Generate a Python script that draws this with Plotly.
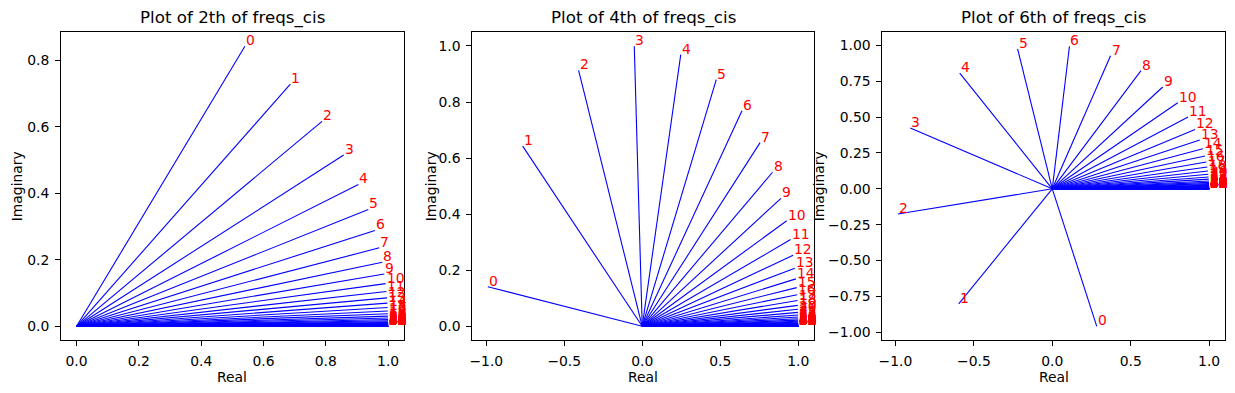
import plotly.graph_objects as go

# ---- data ----
labels = [str(i) for i in range(64)]

real_2th = [0.5403, 0.6862, 0.7878, 0.8574, 0.9046, 0.9364, 0.9576, 0.9718, 0.9813, 0.9876,
            0.9917, 0.9945, 0.9964, 0.9976, 0.9984, 0.9989, 0.9993, 0.9995, 0.9997, 0.9998,
            0.9999, 0.9999, 0.9999, 1.0, 1.0, 1.0, 1.0, 1.0, 1.0, 1.0,
            1.0, 1.0, 1.0, 1.0, 1.0, 1.0, 1.0, 1.0, 1.0, 1.0,
            1.0, 1.0, 1.0, 1.0, 1.0, 1.0, 1.0, 1.0, 1.0, 1.0,
            1.0, 1.0, 1.0, 1.0, 1.0, 1.0, 1.0, 1.0, 1.0, 1.0,
            1.0, 1.0, 1.0, 1.0]
imag_2th = [0.8415, 0.7275, 0.6160, 0.5146, 0.4263, 0.3511, 0.2881, 0.2358, 0.1927, 0.1573,
            0.1283, 0.1046, 0.0853, 0.0695, 0.0566, 0.0461, 0.0376, 0.0306, 0.0250, 0.0203,
            0.0166, 0.0135, 0.0110, 0.0090, 0.0073, 0.0059, 0.0048, 0.0039, 0.0032, 0.0026,
            0.0021, 0.0017, 0.0014, 0.0011, 0.0009, 0.0008, 0.0006, 0.0005, 0.0004, 0.0003,
            0.0003, 0.0002, 0.0002, 0.0001, 0.0001, 0.0001, 0.0001, 0.0001, 0.0001, 0.0,
            0.0, 0.0, 0.0, 0.0, 0.0, 0.0, 0.0, 0.0, 0.0, 0.0,
            0.0, 0.0, 0.0, 0.0]

real_4th = [-0.9900, -0.7663, -0.4078, -0.0509, 0.2471, 0.4747, 0.6397, 0.7557, 0.8355, 0.8898,
            0.9264, 0.9510, 0.9674, 0.9783, 0.9856, 0.9904, 0.9936, 0.9958, 0.9972, 0.9981,
            0.9988, 0.9992, 0.9995, 0.9996, 0.9998, 0.9998, 0.9999, 0.9999, 1.0, 1.0,
            1.0, 1.0, 1.0, 1.0, 1.0, 1.0, 1.0, 1.0, 1.0, 1.0,
            1.0, 1.0, 1.0, 1.0, 1.0, 1.0, 1.0, 1.0, 1.0, 1.0,
            1.0, 1.0, 1.0, 1.0, 1.0, 1.0, 1.0, 1.0, 1.0, 1.0,
            1.0, 1.0, 1.0, 1.0]
imag_4th = [0.1411, 0.6425, 0.9131, 0.9987, 0.9690, 0.8801, 0.7686, 0.6550, 0.5495, 0.4564,
            0.3765, 0.3093, 0.2534, 0.2072, 0.1692, 0.1380, 0.1126, 0.0918, 0.0748, 0.0610,
            0.0497, 0.0405, 0.0330, 0.0269, 0.0219, 0.0178, 0.0145, 0.0118, 0.0096, 0.0079,
            0.0064, 0.0052, 0.0042, 0.0035, 0.0028, 0.0023, 0.0019, 0.0015, 0.0012, 0.0010,
            0.0008, 0.0007, 0.0005, 0.0004, 0.0004, 0.0003, 0.0002, 0.0002, 0.0002, 0.0001,
            0.0001, 0.0001, 0.0001, 0.0001, 0.0, 0.0, 0.0, 0.0, 0.0, 0.0,
            0.0, 0.0, 0.0, 0.0]

real_6th = [0.2837, -0.5966, -0.9845, -0.9053, -0.5900, -0.2210, 0.1095, 0.3714, 0.5656, 0.7040,
            0.8001, 0.8658, 0.9102, 0.9401, 0.9601, 0.9735, 0.9824, 0.9883, 0.9922, 0.9948,
            0.9966, 0.9977, 0.9985, 0.9990, 0.9993, 0.9996, 0.9997, 0.9998, 0.9999, 0.9999,
            0.9999, 1.0, 1.0, 1.0, 1.0, 1.0, 1.0, 1.0, 1.0, 1.0,
            1.0, 1.0, 1.0, 1.0, 1.0, 1.0, 1.0, 1.0, 1.0, 1.0,
            1.0, 1.0, 1.0, 1.0, 1.0, 1.0, 1.0, 1.0, 1.0, 1.0,
            1.0, 1.0, 1.0, 1.0]
imag_6th = [-0.9589, -0.8025, -0.1755, 0.4248, 0.8074, 0.9753, 0.9940, 0.9285, 0.8247, 0.7102,
            0.5999, 0.5005, 0.4141, 0.3409, 0.2796, 0.2288, 0.1869, 0.1526, 0.1244, 0.1015,
            0.0827, 0.0674, 0.0549, 0.0447, 0.0364, 0.0297, 0.0242, 0.0197, 0.0161, 0.0131,
            0.0107, 0.0087, 0.0071, 0.0057, 0.0047, 0.0038, 0.0031, 0.0025, 0.0021, 0.0017,
            0.0014, 0.0011, 0.0009, 0.0007, 0.0006, 0.0005, 0.0004, 0.0003, 0.0003, 0.0002,
            0.0002, 0.0001, 0.0001, 0.0001, 0.0001, 0.0001, 0.0001, 0.0, 0.0, 0.0,
            0.0, 0.0, 0.0, 0.0]

titles = ["Plot of 2th of freqs_cis", "Plot of 4th of freqs_cis", "Plot of 6th of freqs_cis"]
panels = [(real_2th, imag_2th), (real_4th, imag_4th), (real_6th, imag_6th)]

x_ticks = [[0.0, 0.2, 0.4, 0.6, 0.8, 1.0], [-1.0, -0.5, 0.0, 0.5, 1.0], [-1.0, -0.5, 0.0, 0.5, 1.0]]
y_ticks = [[0.0, 0.2, 0.4, 0.6, 0.8], [0.0, 0.2, 0.4, 0.6, 0.8, 1.0],
           [-1.0, -0.75, -0.5, -0.25, 0.0, 0.25, 0.5, 0.75, 1.0]]
x_fmt = [".1f", ".1f", ".1f"]
y_fmt = [".1f", ".1f", ".2f"]

# ---- layout geometry ----
W, H = 1235, 393
x_dom_px = [(61, 403.7), (472.3, 813.7), (882.3, 1224.7)]
y_top_px, y_bot_px = 32.3, 340.3
ylab_px = [17, 431, 819]
FONT = "DejaVu Sans"
fs = 13.9

fig = go.Figure()
annotations = []
layout_axes = {}

def mpl_range(vals):
    lo, hi = min(vals + [0.0]), max(vals + [0.0])
    m = (hi - lo) * 0.05
    return [lo - m, hi + m]

for k, ((re, im), title) in enumerate(zip(panels, titles)):
    n = k + 1
    xa = "x" if n == 1 else f"x{n}"
    ya = "y" if n == 1 else f"y{n}"
    xs, ys = [], []
    for a, b in zip(re, im):
        xs += [0.0, a, None]
        ys += [0.0, b, None]
    fig.add_trace(go.Scatter(x=xs, y=ys, mode="lines", line=dict(color="blue", width=1.1),
                             xaxis=xa, yaxis=ya, showlegend=False, hoverinfo="skip"))
    for a, b, lab in zip(re, im, labels):
        annotations.append(dict(x=a, y=b, xref=xa, yref=ya, text=lab, showarrow=False,
                                xanchor="left", yanchor="bottom", yshift=-4, xshift=-1,
                                font=dict(family=FONT, size=fs, color="red")))
    x0, x1 = x_dom_px[k]
    dom_x = [x0 / W, x1 / W]
    dom_y = [1 - y_bot_px / H, 1 - y_top_px / H]
    common = dict(showline=True, linecolor="black", linewidth=1, mirror=True,
                  ticks="outside", ticklen=4.9, tickwidth=0.8, tickcolor="black",
                  showgrid=False, zeroline=False, automargin=False,
                  tickfont=dict(family=FONT, size=fs, color="black"),
                  ticklabelstandoff=3)
    layout_axes["xaxis" if n == 1 else f"xaxis{n}"] = dict(
        domain=dom_x, range=mpl_range(re), anchor=ya, tickvals=x_ticks[k],
        tickformat=x_fmt[k], **common)
    layout_axes["yaxis" if n == 1 else f"yaxis{n}"] = dict(
        domain=dom_y, range=mpl_range(im), anchor=xa, tickvals=y_ticks[k],
        tickformat=y_fmt[k], **common)
    cx = (x0 + x1) / 2 / W
    annotations.append(dict(x=cx, y=1 - 18 / H, xref="paper", yref="paper", text=title,
                            showarrow=False, xanchor="center", yanchor="middle",
                            font=dict(family=FONT, size=16.7, color="black")))
    annotations.append(dict(x=cx, y=1 - 376.5 / H, xref="paper", yref="paper", text="Real",
                            showarrow=False, xanchor="center", yanchor="middle",
                            font=dict(family=FONT, size=fs, color="black")))
    annotations.append(dict(x=ylab_px[k] / W, y=1 - (y_top_px + y_bot_px) / 2 / H,
                            xref="paper", yref="paper", text="Imaginary", textangle=-90,
                            showarrow=False, xanchor="center", yanchor="middle",
                            font=dict(family=FONT, size=fs, color="black")))

fig.update_layout(width=W, height=H, margin=dict(l=0, r=0, t=0, b=0),
                  paper_bgcolor="white", plot_bgcolor="white",
                  font=dict(family=FONT, size=fs, color="black"),
                  annotations=annotations, **layout_axes)

fig.write_html("out.html", config={"displayModeBar": False},
               post_script="document.body.style.margin='0';document.body.style.overflow='hidden';")
